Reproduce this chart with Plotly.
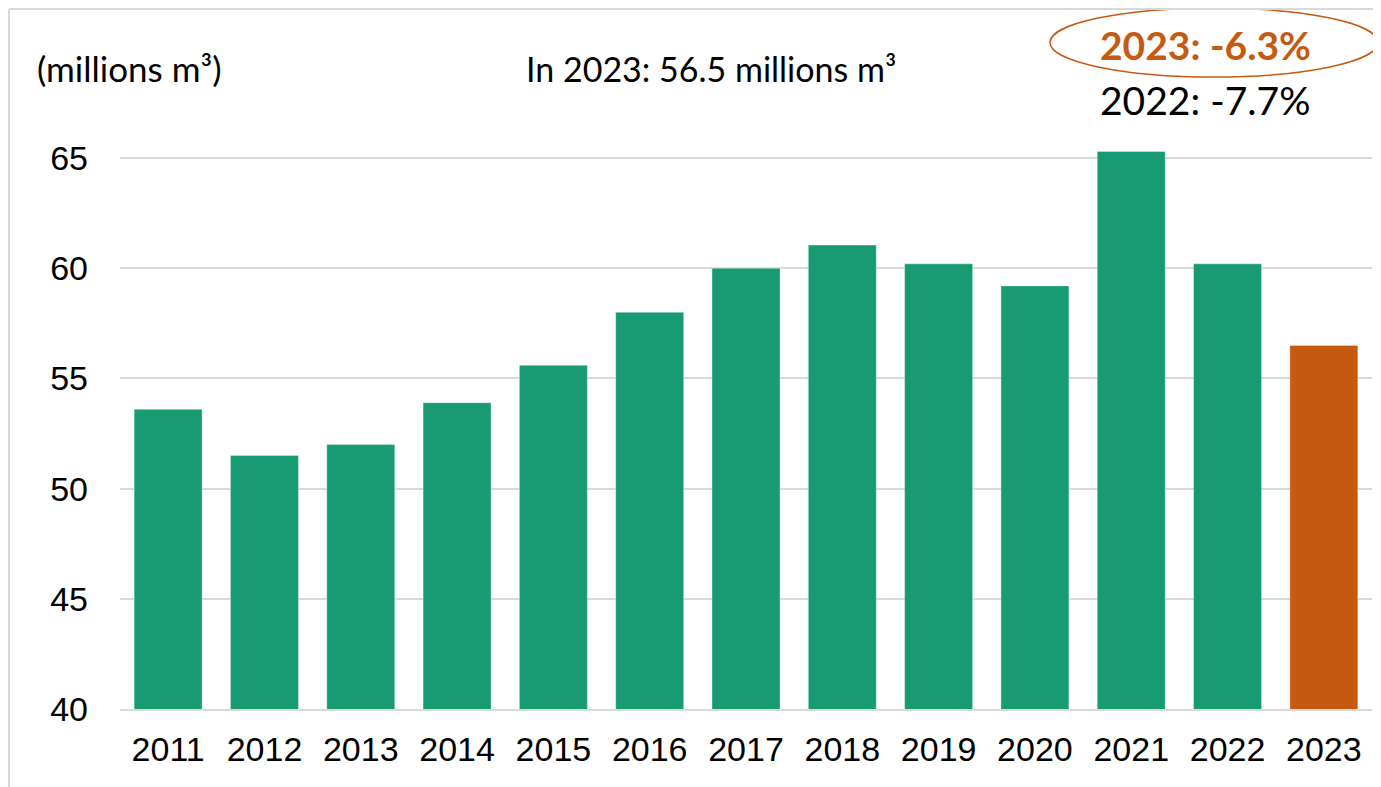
import plotly.graph_objects as go

# data
years = ['2011', '2012', '2013', '2014', '2015', '2016', '2017',
         '2018', '2019', '2020', '2021', '2022', '2023']
volumes = [53.6, 51.5, 52.0, 53.9, 55.6, 58.0, 60.0,
           61.05, 60.2, 59.2, 65.3, 60.2, 56.5]
y_ticks = [40, 45, 50, 55, 60, 65]

GREEN = '#189b73'
ORANGE = '#c55a11'
bar_colors = [GREEN] * (len(years) - 1) + [ORANGE]

# page body adds an 8px margin, so the figure is drawn from (8, 8)
OFF = 8
W, H = 1381 - OFF, 787 - OFF
L, R, T, B = 120 - OFF, 9, 114 - OFF, 78


def px_x(p):
    return (p - OFF - L) / (W - L - R)


def px_y(p):
    return (H - B - (p - OFF)) / (H - B - T)


fig = go.Figure()
fig.add_trace(go.Bar(
    x=years,
    y=volumes,
    marker_color=bar_colors,
    marker_line=dict(color='rgba(255,255,255,0.35)', width=1),
    showlegend=False,
    hoverinfo='x+y',
))

fig.update_layout(
    width=W, height=H,
    margin=dict(l=L, r=R, t=T, b=B),
    paper_bgcolor='white',
    plot_bgcolor='white',
    bargap=0.294,
    font=dict(family='Liberation Sans, Arial, sans-serif', color='black', size=34),
)

fig.update_xaxes(
    type='category',
    showgrid=False,
    showline=True, linecolor='#d9d9d9', linewidth=2,
    ticks='', ticklabelstandoff=9,
    tickfont=dict(size=34),
)
fig.update_yaxes(
    range=[40, 67],
    tickvals=y_ticks,
    showgrid=True, gridcolor='#d9d9d9', gridwidth=1.5,
    zeroline=False,
    ticks='', ticklabelstandoff=31,
    tickfont=dict(size=34),
)

CAL = 'Lato, Carlito, Calibri, sans-serif'
fig.add_annotation(
    text='(millions m³)', xref='paper', yref='paper',
    x=px_x(35), y=px_y(68), xanchor='left', yanchor='middle',
    showarrow=False, font=dict(family=CAL, size=35, color='black'),
)
fig.add_annotation(
    text='In 2023: 56.5 millions m³', xref='paper', yref='paper',
    x=px_x(711), y=px_y(68), xanchor='center', yanchor='middle',
    showarrow=False, font=dict(family=CAL, size=34, color='black'),
)
fig.add_annotation(
    text='<b>2023: -6.3%</b>', xref='paper', yref='paper',
    x=px_x(1205), y=px_y(45), xanchor='center', yanchor='middle',
    showarrow=False, font=dict(family=CAL, size=39, color=ORANGE),
)
fig.add_annotation(
    text='2022: -7.7%', xref='paper', yref='paper',
    x=px_x(1205), y=px_y(100), xanchor='center', yanchor='middle',
    showarrow=False, font=dict(family=CAL, size=39, color='black'),
)

# ellipse around the 2023 change
fig.add_shape(
    type='circle', xref='paper', yref='paper',
    x0=px_x(1050), x1=px_x(1378), y0=px_y(77), y1=px_y(8),
    line=dict(color=ORANGE, width=1.5),
)

# light frame around the chart (top and left edges visible)
fig.add_shape(type='line', xref='paper', yref='paper',
              x0=px_x(9), x1=px_x(1390), y0=px_y(9), y1=px_y(9),
              line=dict(color='#d9d9d9', width=2))
fig.add_shape(type='line', xref='paper', yref='paper',
              x0=px_x(9), x1=px_x(9), y0=px_y(9), y1=px_y(795),
              line=dict(color='#d9d9d9', width=2))

fig.write_html('out.html')
